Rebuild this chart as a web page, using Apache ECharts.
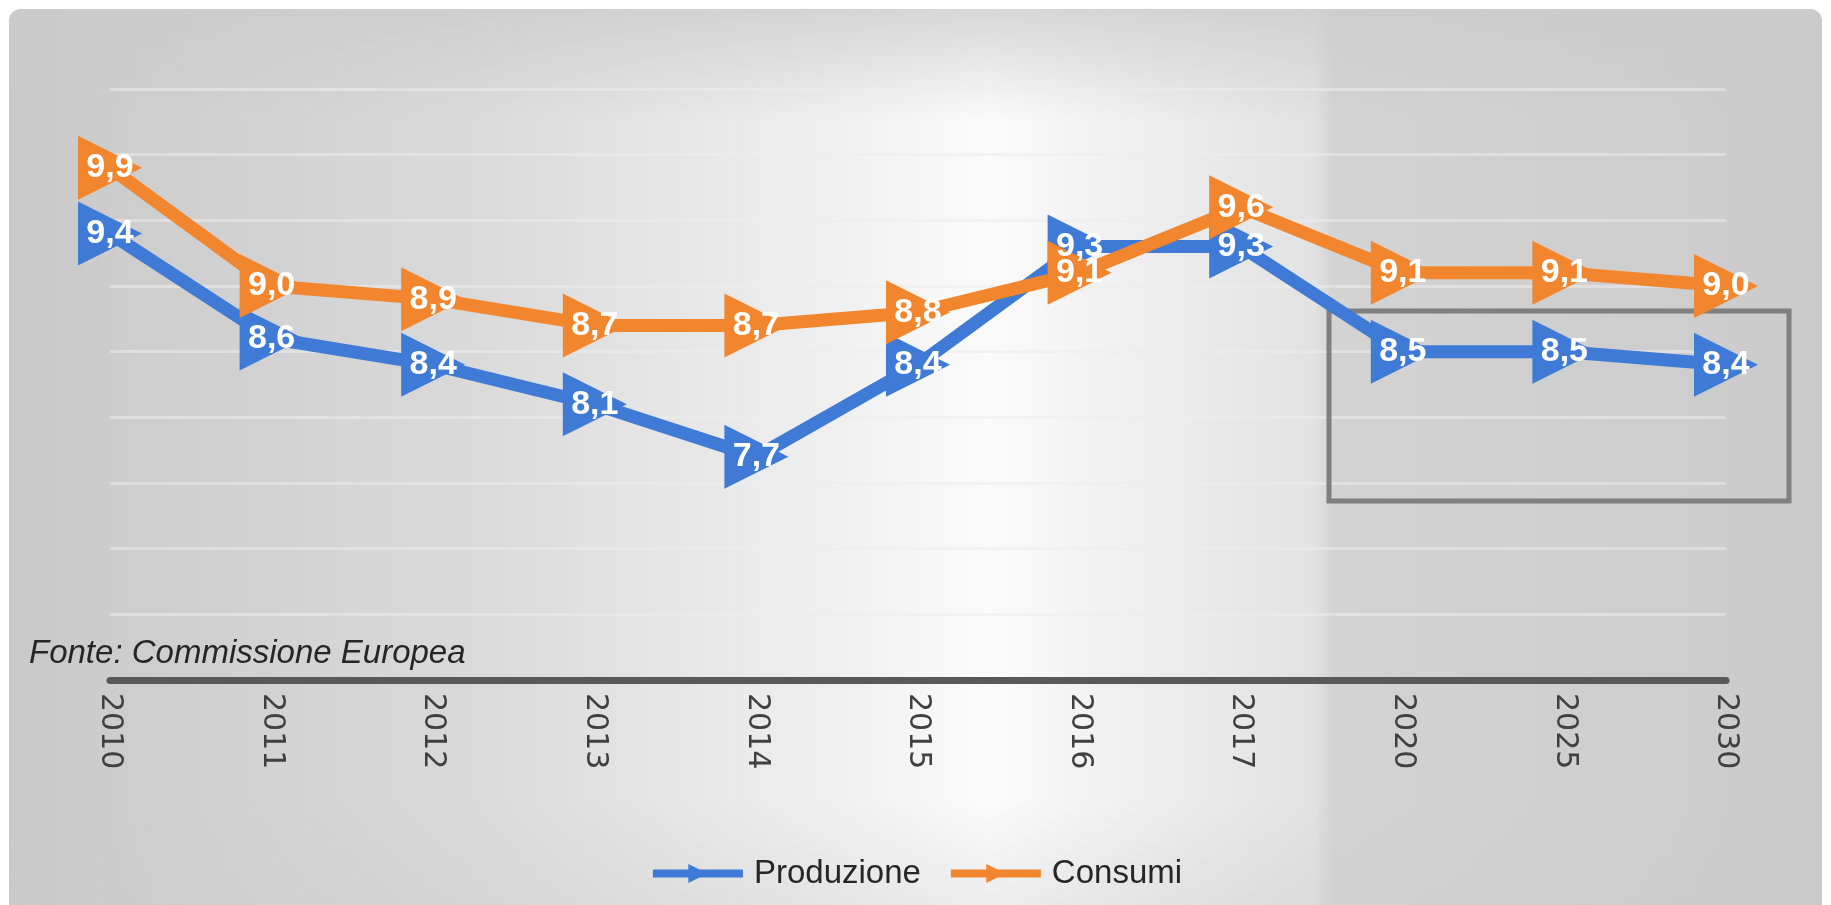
<!DOCTYPE html>
<html>
<head>
<meta charset="utf-8">
<script src="https://cdn.jsdelivr.net/npm/echarts@6/dist/echarts.min.js"></script>
<style>
  html, body { margin: 0; padding: 0; background: #ffffff; }
  #chart { width: 1831px; height: 905px; }
</style>
</head>
<body>
<div id="chart"></div>
<script>
var anni = ['2010', '2011', '2012', '2013', '2014', '2015', '2016', '2017', '2020', '2025', '2030']
var produzione = [9.4, 8.6, 8.4, 8.1, 7.7, 8.4, 9.3, 9.3, 8.5, 8.5, 8.4]
var consumi = [9.9, 9.0, 8.9, 8.7, 8.7, 8.8, 9.1, 9.6, 9.1, 9.1, 9.0]

var chart = echarts.init(document.getElementById('chart'))

function virgola(p) {
  return p.value.toFixed(1).replace('.', ',')
}

function serie(nome, dati, colore) {
  return {
    name: nome,
    type: 'line',
    data: dati,
    symbol: 'triangle',
    symbolRotate: -90,
    symbolSize: 64,
    lineStyle: { width: 13, color: colore },
    itemStyle: { color: colore },
    label: {
      show: true,
      position: 'inside',
      formatter: virgola,
      color: '#ffffff',
      fontFamily: 'Liberation Sans',
      fontWeight: 'bold',
      fontSize: 34
    },
    emphasis: { disabled: true },
    animation: false
  }
}

var options = {
  animation: false,
  grid: {
    left: 110,
    right: 105,
    top: 89,
    bottom: 225
  },
  title: {
    text: 'Fonte: Commissione Europea',
    left: 24,
    top: 632,
    textStyle: {
      fontFamily: 'Liberation Sans',
      fontStyle: 'italic',
      fontWeight: 'normal',
      fontSize: 33,
      color: '#262626'
    }
  },
  legend: {
    left: 'center',
    top: 852,
    itemWidth: 90,
    itemHeight: 24,
    itemGap: 26,
    lineStyle: { width: 8 },
    textStyle: {
      fontFamily: 'Liberation Sans',
      fontSize: 33,
      color: '#262626',
      padding: [0, 0, 0, 6]
    },
    data: ['Produzione', 'Consumi']
  },
  xAxis: {
    type: 'category',
    boundaryGap: false,
    data: anni,
    axisLine: { lineStyle: { color: '#595959', width: 7 } },
    axisTick: { show: false },
    axisLabel: {
      rotate: -90,
      margin: 13,
      padding: [0, 0, 12, 0],
      fontFamily: 'DejaVu Sans',
      fontSize: 30,
      color: '#404040'
    }
  },
  yAxis: {
    type: 'value',
    min: 6,
    max: 10.5,
    interval: 0.5,
    axisLine: { show: false },
    axisTick: { show: false },
    axisLabel: { show: false },
    splitLine: { lineStyle: { color: 'rgba(236,236,236,0.55)', width: 3 } }
  },
  graphic: [
    {
      type: 'rect',
      z: -10,
      shape: { x: 9, y: 9, width: 1813, height: 930, r: 12 },
      style: {
        fill: {
          type: 'linear', x: 0, y: 0, x2: 1, y2: 0,
          colorStops: [
            { offset: 0, color: '#c9c9c9' },
            { offset: 0.25, color: '#d9d9d9' },
            { offset: 0.45, color: '#efefef' },
            { offset: 0.54, color: '#fbfbfb' },
            { offset: 0.64, color: '#ececec' },
            { offset: 0.72, color: '#e2e2e2' },
            { offset: 0.73, color: '#d3d3d3' },
            { offset: 1, color: '#cbcbcb' }
          ]
        }
      }
    },
    {
      type: 'rect',
      z: -9,
      shape: { x: 9, y: 9, width: 1813, height: 930, r: 12 },
      style: {
        fill: {
          type: 'linear', x: 0, y: 0, x2: 0, y2: 1,
          colorStops: [
            { offset: 0, color: 'rgba(203,203,203,0.75)' },
            { offset: 0.12, color: 'rgba(203,203,203,0)' },
            { offset: 0.85, color: 'rgba(203,203,203,0)' },
            { offset: 1, color: 'rgba(203,203,203,0.4)' }
          ]
        }
      }
    },
    {
      // riquadro grigio sulle previsioni
      type: 'rect',
      z: 1,
      shape: { x: 1329, y: 311, width: 460, height: 190 },
      style: { fill: 'none', stroke: '#7f7f7f', lineWidth: 5 }
    }
  ],
  series: [
    serie('Produzione', produzione, '#3f7bd6'),
    serie('Consumi', consumi, '#f2862e')
  ]
}

chart.setOption(options)
</script>
</body>
</html>
